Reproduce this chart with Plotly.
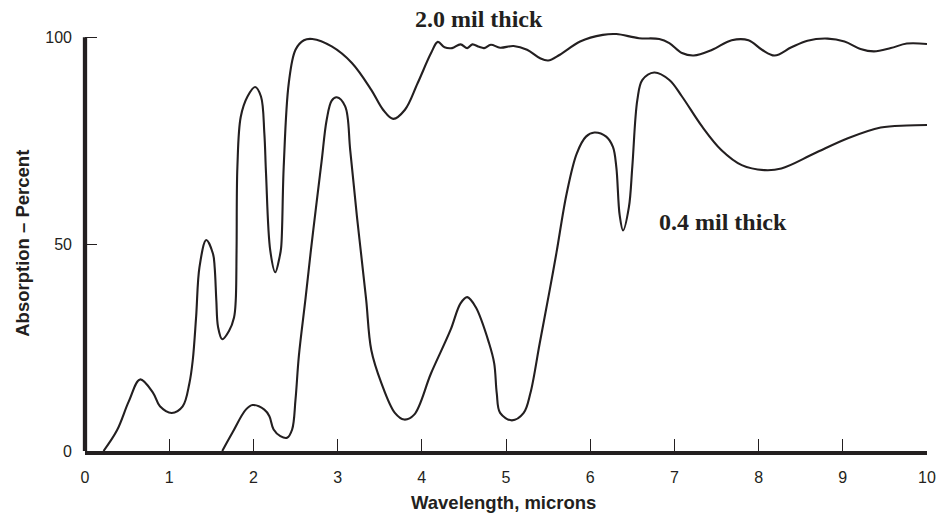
import plotly.graph_objects as go

# 2.0 mil thick film
thick_x = [0.22, 0.38, 0.52, 0.654, 0.81, 0.89, 1.03, 1.16, 1.24, 1.28, 1.32, 1.36, 1.44, 1.52, 1.54,
           1.56, 1.58, 1.63, 1.71, 1.77, 1.79, 1.80, 1.81, 1.85, 1.93, 2.02, 2.09, 2.13, 2.15, 2.20,
           2.26, 2.31, 2.33, 2.36, 2.42, 2.50, 2.60, 2.70, 2.93, 3.17, 3.40, 3.54, 3.66, 3.80, 3.95,
           4.11, 4.19, 4.27, 4.36, 4.46, 4.54, 4.60, 4.68, 4.74, 4.82, 4.93, 5.09, 5.25, 5.40, 5.50,
           5.64, 5.88, 6.15, 6.31, 6.58, 6.82, 6.94, 7.09, 7.23, 7.45, 7.68, 7.88, 8.04, 8.19, 8.39,
           8.58, 8.82, 9.02, 9.21, 9.37, 9.57, 9.76, 10.0]
thick_y = [0, 5, 12, 17.3, 14, 10.8, 9.2, 10.8, 16.4, 22, 32.5, 44.5, 51, 47.7, 44.4,
           36.3, 30, 27, 29, 32.3, 36.3, 48.5, 68.7, 80.8, 85.7, 88, 85.7, 76.8, 67.1, 48.5,
           43.2, 46.8, 49.3, 68.7, 88.9, 97, 99.3, 99.6, 97.8, 93.8, 87.3, 82.5, 80.3, 82.5, 88.9,
           96.2, 98.9, 97.6, 97.4, 98.3, 97.4, 98.3, 97.7, 97.4, 98.2, 97.5, 97.9, 97, 95, 94.4,
           95.8, 99, 100.6, 100.8, 99.8, 99.6, 98.6, 96.2, 95.6, 97, 99.3, 99.3, 97, 95.6, 97.6,
           99.2, 99.7, 99, 97.2, 96.6, 97.4, 98.5, 98.4]

# 0.4 mil thick film
thin_x = [1.63, 1.75, 1.91, 1.99, 2.13, 2.19, 2.24, 2.32, 2.40, 2.46, 2.50, 2.54, 2.62, 2.68, 2.75,
          2.81, 2.87, 2.93, 2.99, 3.09, 3.15, 3.23, 3.28, 3.34, 3.40, 3.52, 3.68, 3.79, 3.91, 4.11,
          4.34, 4.46, 4.54, 4.64, 4.80, 4.86, 4.89, 4.93, 5.07, 5.21, 5.29, 5.40, 5.52, 5.60, 5.72,
          5.84, 5.95, 6.05, 6.19, 6.27, 6.31, 6.35, 6.39, 6.46, 6.50, 6.56, 6.62, 6.76, 6.94, 7.09,
          7.33, 7.56, 7.80, 8.07, 8.27, 8.66, 9.06, 9.45, 9.76, 10.0]
thin_y = [0, 4.4, 10, 11.1, 10, 8.4, 5.2, 3.6, 3.2, 5.2, 12.4, 23, 37, 48, 60,
          70, 80, 84.7, 85.5, 83.3, 72.7, 56.6, 47.5, 36.4, 24.4, 16.4, 9.2, 7.6, 8.8, 18.8,
          29.2, 35.7, 37.2, 34.8, 26, 21.2, 14, 9.2, 7.4, 9.2, 14, 26, 39, 48, 62.2,
          71.9, 76, 77, 76, 73.5, 68.7, 57, 53.3, 59, 68.7, 84.9, 89.7, 91.5, 89.7, 85.7,
          78.4, 72.7, 69.1, 67.9, 68.3, 71.9, 75.6, 78.2, 78.7, 78.8]

x_ticks = [0, 1, 2, 3, 4, 5, 6, 7, 8, 9, 10]
y_ticks = [0, 50, 100]

INK = "#231f20"
SANS = "Liberation Sans, Arial, sans-serif"
SERIF = "Liberation Serif, Times New Roman, serif"

fig = go.Figure()
for xs, ys in [(thick_x, thick_y), (thin_x, thin_y)]:
    fig.add_trace(go.Scatter(x=xs, y=ys, mode="lines",
                             line=dict(color=INK, width=2.1, shape="spline", smoothing=1.0),
                             showlegend=False, hoverinfo="skip"))

fig.update_layout(
    width=948, height=520,
    margin=dict(l=84.5, r=13.5, t=27, b=68.5),
    paper_bgcolor="white", plot_bgcolor="white",
    xaxis=dict(range=[0, 10], tickvals=x_ticks, ticktext=[str(v) for v in x_ticks],
               showgrid=False, zeroline=False, showline=True, linewidth=4.3, linecolor=INK,
               ticks="inside", ticklen=12, tickwidth=1.3, tickcolor=INK,
               tickfont=dict(family=SANS, size=16, color=INK), ticklabelstandoff=9),
    yaxis=dict(range=[0, 102.5], tickvals=y_ticks, ticktext=[str(v) for v in y_ticks],
               showgrid=False, zeroline=False, showline=False,
               ticks="inside", ticklen=12, tickwidth=1.3, tickcolor=INK,
               tickfont=dict(family=SANS, size=16, color=INK), ticklabelstandoff=12),
    shapes=[dict(type="line", xref="paper", yref="y", x0=0, x1=0, y0=-1.05, y1=100,
                 line=dict(color=INK, width=4.3))],
    annotations=[
        dict(text="<b>Wavelength, microns</b>", xref="paper", yref="paper", x=0.497, y=-0.121,
             showarrow=False, xanchor="center", yanchor="middle",
             font=dict(family=SANS, size=18.5, color=INK)),
        dict(text="<b>Absorption – Percent</b>", xref="paper", yref="paper", x=-0.0735, y=0.489,
             showarrow=False, xanchor="center", yanchor="middle", textangle=-90,
             font=dict(family=SANS, size=18.5, color=INK)),
        dict(text="<b>2.0 mil thick</b>", xref="paper", yref="paper", x=0.468, y=1.0185,
             showarrow=False, xanchor="center", yanchor="middle",
             font=dict(family=SERIF, size=24, color=INK)),
        dict(text="<b>0.4 mil thick</b>", xref="x", yref="y", x=7.58, y=55.4,
             showarrow=False, xanchor="center", yanchor="middle",
             font=dict(family=SERIF, size=24, color=INK)),
    ],
)

fig.write_html("out.html", config={"displayModeBar": False},
               post_script="document.body.style.margin='0';document.body.style.padding='0';")
